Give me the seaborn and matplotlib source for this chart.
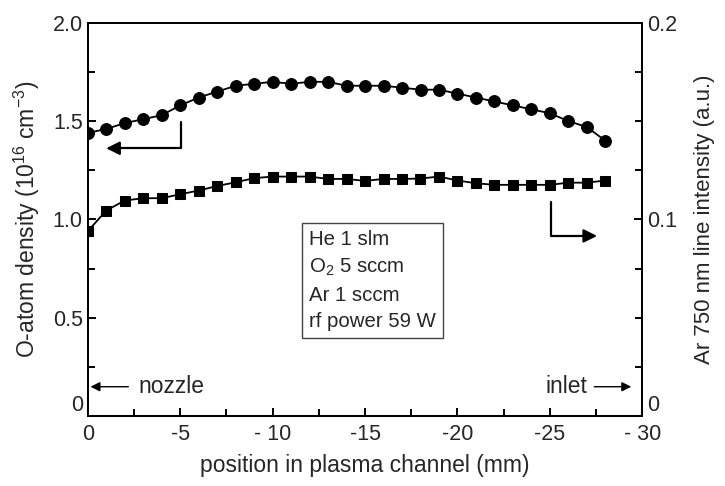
import matplotlib
matplotlib.use("Agg")
import matplotlib.pyplot as plt
import seaborn as sns
import numpy as np

# position along the plasma channel (mm), one point per mm
position = [0, -1, -2, -3, -4, -5, -6, -7, -8, -9, -10, -11, -12, -13, -14,
            -15, -16, -17, -18, -19, -20, -21, -22, -23, -24, -25, -26, -27, -28]

# O-atom density (1e16 cm^-3), left axis
o_density = [1.44, 1.46, 1.49, 1.51, 1.53, 1.58, 1.62, 1.65, 1.68, 1.69, 1.70,
             1.69, 1.70, 1.70, 1.68, 1.68, 1.68, 1.67, 1.66, 1.66, 1.64, 1.62,
             1.60, 1.58, 1.56, 1.54, 1.50, 1.47, 1.40]

# Ar 750 nm line intensity (a.u.), right axis
ar_intensity = [0.094, 0.1045, 0.1096, 0.1108, 0.1108, 0.1128, 0.1147, 0.117,
                0.1189, 0.121, 0.1218, 0.1218, 0.1218, 0.1206, 0.1206, 0.1196,
                0.1206, 0.1206, 0.1208, 0.1218, 0.1198, 0.1184, 0.1176, 0.1176,
                0.1176, 0.1176, 0.1187, 0.1187, 0.1198]

x_ticks = [0, -5, -10, -15, -20, -25, -30]
x_ticklabels = ["0", "-5", "- 10", "-15", "-20", "-25", "- 30"]
left_ticks = [0, 0.5, 1.0, 1.5, 2.0]
left_ticklabels = ["0", "0.5", "1.0", "1.5", "2.0"]
right_ticks = [0, 0.1, 0.2]
right_ticklabels = ["0", "0.1", "0.2"]
conditions = ["He 1 slm", "O$_2$ 5 sccm", "Ar 1 sccm", "rf power 59 W"]

sns.set_theme(style="ticks")
plt.rcParams['font.family'] = ['Liberation Sans', 'DejaVu Sans']
plt.rcParams['mathtext.fontset'] = 'custom'
plt.rcParams['mathtext.rm'] = 'Liberation Sans'
plt.rcParams['mathtext.it'] = 'Liberation Sans'

fig = plt.figure(figsize=(7.25, 4.86), dpi=100)
ax = fig.add_axes([0.121, 0.144, 0.765, 0.809])
ax2 = ax.twinx()

sns.lineplot(x=position, y=o_density, marker='o', markersize=8.5, color='black',
             linewidth=1.3, markeredgecolor='black', ax=ax)
sns.lineplot(x=position, y=ar_intensity, marker='s', markersize=7, color='black',
             linewidth=1.3, markeredgecolor='black', ax=ax2)

ax.set_xlim(0, -30)
ax.set_ylim(0, 2.0)
ax2.set_ylim(0, 0.2)

ax.set_xticks(x_ticks)
ax.set_xticklabels(x_ticklabels)
ax.set_xticks(np.arange(0, -30.1, -2.5), minor=True)
ax.set_yticks(left_ticks)
ax.set_yticklabels(left_ticklabels)
ax.set_yticks(np.arange(0, 2.01, 0.25), minor=True)
ax2.set_yticks(right_ticks)
ax2.set_yticklabels(right_ticklabels)
ax2.set_yticks(np.arange(0, 0.201, 0.025), minor=True)

for a in (ax, ax2):
    for s in a.spines.values():
        s.set_linewidth(1.4)
        s.set_color('black')
ax.tick_params(axis='both', which='both', direction='in', labelsize=15.5, width=1.4, color='black')
ax.tick_params(which='major', length=6)
ax.tick_params(which='minor', length=5)
ax.tick_params(axis='x', pad=6)
ax2.tick_params(axis='y', which='both', direction='in', labelsize=15.5, width=1.4, color='black')
ax2.tick_params(which='major', length=6)
ax2.tick_params(which='minor', length=5)

# the "0" labels of both y axes sit on the bottom spine
ax.get_yticklabels()[0].set_verticalalignment('bottom')
ax2.get_yticklabels()[0].set_verticalalignment('bottom')

ax.set_xlabel("position in plasma channel (mm)", fontsize=16.5, labelpad=6)
ax.set_ylabel("O-atom density (10$^{16}$ cm$^{-3}$)", fontsize=16.5, labelpad=8)
ax2.set_ylabel("Ar 750 nm line intensity (a.u.)", fontsize=16, labelpad=12)

# series pointers
ax.plot([-5.05, -5.05, -1.6], [1.497, 1.362, 1.362], color='black', linewidth=1.6)
ax.annotate("", xy=(-0.85, 1.362), xytext=(-1.8, 1.362),
            arrowprops=dict(arrowstyle='-|>', color='black', lw=1.6, mutation_scale=20))
ax.plot([-25.07, -25.07, -26.6], [1.09, 0.916, 0.916], color='black', linewidth=1.6)
ax.annotate("", xy=(-27.7, 0.916), xytext=(-26.4, 0.916),
            arrowprops=dict(arrowstyle='-|>', color='black', lw=1.6, mutation_scale=20))

# nozzle / inlet
ax.annotate("", xy=(0, 0.149), xytext=(-2.35, 0.149),
            arrowprops=dict(arrowstyle='-|>', color='black', lw=1.0, mutation_scale=14))
ax.text(-2.75, 0.149, "nozzle", fontsize=16.5, va='center', ha='left')
ax.annotate("", xy=(-29.55, 0.149), xytext=(-27.25, 0.149),
            arrowprops=dict(arrowstyle='-|>', color='black', lw=1.0, mutation_scale=14))
ax.text(-27.0, 0.149, "inlet", fontsize=16.5, va='center', ha='right')

# conditions box
ax.text(-11.95, 0.69, "\n".join(conditions), fontsize=14.7, va='center', ha='left',
        linespacing=1.5,
        bbox=dict(boxstyle='square,pad=0.35', facecolor='white', edgecolor='#444444', linewidth=1.0))

fig.savefig("out.png", dpi=100)
